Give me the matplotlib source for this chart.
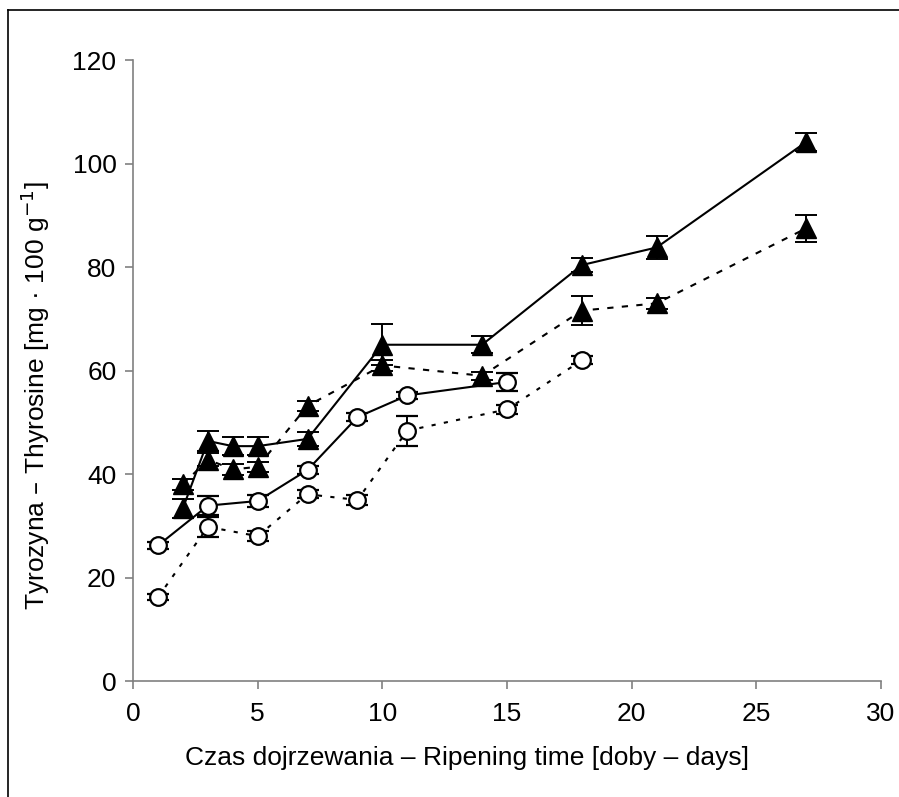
import matplotlib
matplotlib.use("Agg")
import matplotlib.pyplot as plt
from matplotlib.lines import Line2D

plt.rcParams["font.family"] = ["Liberation Sans", "DejaVu Sans"]

# triangles, solid line
tri_solid_x = [2, 3, 4, 5, 7, 10, 14, 18, 21, 27]
tri_solid_y = [33.4, 46.4, 45.4, 45.4, 46.8, 65.0, 65.0, 80.4, 83.8, 104.2]
tri_solid_e = [1.8, 2.0, 1.8, 1.8, 1.4, 4.0, 1.6, 1.4, 2.2, 1.8]

# triangles, dashed line
tri_dash_x = [2, 3, 4, 5, 7, 10, 14, 18, 21, 27]
tri_dash_y = [38.0, 42.8, 40.9, 41.4, 53.2, 61.0, 59.0, 71.6, 73.0, 87.5]
tri_dash_e = [1.0, 1.2, 1.0, 1.0, 1.0, 1.0, 0.8, 2.8, 1.0, 2.6]

# circles, solid line
circ_solid_x = [1, 3, 5, 7, 9, 11, 15]
circ_solid_y = [26.2, 33.9, 34.8, 40.8, 51.0, 55.2, 57.8]
circ_solid_e = [0.6, 1.8, 1.2, 0.8, 0.8, 0.6, 1.8]

# circles, dotted line
circ_dot_x = [1, 3, 5, 7, 9, 11, 15, 18]
circ_dot_y = [16.2, 29.8, 28.0, 36.1, 35.0, 48.4, 52.5, 62.0]
circ_dot_e = [0.6, 2.0, 1.0, 0.8, 1.0, 2.9, 0.8, 0.8]

fig = plt.figure(figsize=(8.99, 7.97), dpi=100)
ax = fig.add_axes([0.148, 0.1455, 0.832, 0.779])

common = dict(color="black", ecolor="black", elinewidth=1.4, capsize=8,
              capthick=1.4, linewidth=1.5)

ax.errorbar(circ_dot_x, circ_dot_y, yerr=circ_dot_e, linestyle=(0, (2, 4)),
            marker="o", markersize=12, markerfacecolor="white",
            markeredgecolor="black", markeredgewidth=1.6, zorder=3, **common)
ax.errorbar(circ_solid_x, circ_solid_y, yerr=circ_solid_e, linestyle="-",
            marker="o", markersize=12, markerfacecolor="white",
            markeredgecolor="black", markeredgewidth=1.6, zorder=3, **common)
ax.errorbar(tri_dash_x, tri_dash_y, yerr=tri_dash_e, linestyle=(0, (3, 4)),
            marker="^", markersize=14, markerfacecolor="black",
            markeredgecolor="black", zorder=4, **common)
ax.errorbar(tri_solid_x, tri_solid_y, yerr=tri_solid_e, linestyle="-",
            marker="^", markersize=14, markerfacecolor="black",
            markeredgecolor="black", zorder=4, **common)

ax.set_xlim(0, 30)
ax.set_ylim(0, 120)
ax.set_xticks(range(0, 31, 5))
ax.set_yticks(range(0, 121, 20))
for s in ["top", "right"]:
    ax.spines[s].set_visible(False)
for s in ["left", "bottom"]:
    ax.spines[s].set_color("#808080")
    ax.spines[s].set_linewidth(1.2)
ax.tick_params(direction="out", length=6, width=1.2, color="#808080",
               labelsize=19, pad=6)
ax.tick_params(axis="x", pad=9)

ax.set_xlabel("Czas dojrzewania – Ripening time [doby – days]", fontsize=19,
              labelpad=12)
ax.xaxis.set_label_coords(0.447, -0.105)
ax.set_ylabel("Tyrozyna – Thyrosine [mg · 100 g$^{-1}$]", fontsize=19)
ax.yaxis.set_label_coords(-0.108, 0.46)

# outer frame
fig.add_artist(Line2D([8 / 899, 8 / 899], [0, 1 - 10 / 797],
                      color="black", linewidth=1.2))
fig.add_artist(Line2D([8 / 899, 1], [1 - 10 / 797, 1 - 10 / 797],
                      color="black", linewidth=1.2))

fig.savefig("out.png", dpi=100, facecolor="white")
